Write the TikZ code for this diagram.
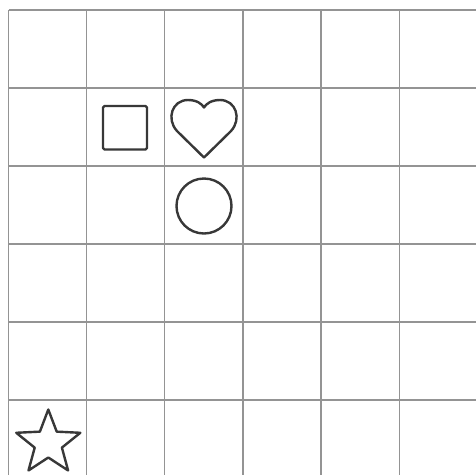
\documentclass[tikz,border=0pt]{standalone}
\begin{document}
\begin{tikzpicture}[x=1pt,y=-1pt,
  gridline/.style={draw=black!42,line width=1.4pt},
  figure/.style={draw=black!78,line width=2.4pt,line join=round}]
\useasboundingbox (0,0) rectangle (476,475);
\fill[white] (0,0) rectangle (476,475);
% grid
\foreach \x in {8.5,86.5,164.5,243,321,399.5}
  \draw[gridline] (\x,10) -- (\x,475);
\foreach \y in {10,88,166,244,322,400}
  \draw[gridline] (8.5,\y) -- (476,\y);
% square
\draw[figure,rounded corners=1.5pt] (103,106) rectangle (147,149.5);
% heart
\draw[figure] (204,157.5) -- (177,131)
  .. controls (166,119) and (172,100) .. (188,100)
  .. controls (197,100) and (202,104) .. (204,107.5)
  .. controls (206,104) and (211,100) .. (220,100)
  .. controls (236,100) and (242,119) .. (231,131) -- cycle;
% circle
\draw[figure] (204,206) circle (27.5);
% star
\draw[figure] (48.3,409.5)
  \foreach \k in {1,...,9} {
    -- ({48.3+ifthenelse(mod(\k,2)==0,33.7,14.3)*sin(36*\k)},{443.2-ifthenelse(mod(\k,2)==0,33.7,14.3)*cos(36*\k)})
  } -- cycle;
\end{tikzpicture}
\end{document}
